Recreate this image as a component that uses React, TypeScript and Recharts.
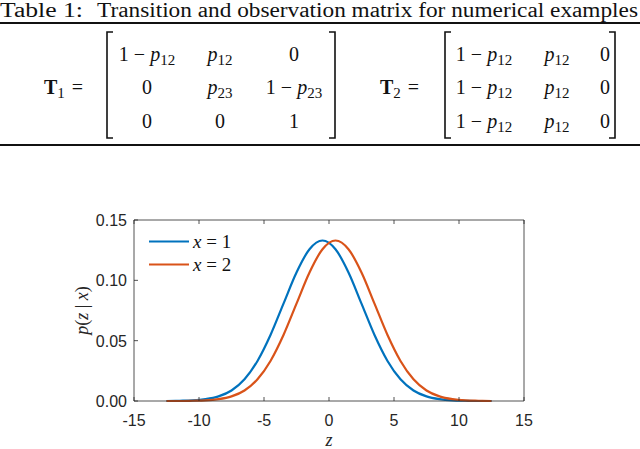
import React from 'react';
import { LineChart, Line, XAxis, YAxis, Legend } from 'recharts';

// density curves
const zValues = [-12.5, -11.5, -10.5, -9.5, -8.5, -7.5, -6.5, -5.5, -4.5, -3.5, -2.5, -1.5, -0.5, 0.5, 1.5, 2.5, 3.5, 4.5, 5.5, 6.5, 7.5, 8.5, 9.5, 10.5, 11.5, 12.5];
const pGivenX1 = [0.0, 0.0002, 0.0005, 0.0015, 0.0038, 0.0087, 0.018, 0.0332, 0.0547, 0.0807, 0.1065, 0.1258, 0.133, 0.1258, 0.1065, 0.0807, 0.0547, 0.0332, 0.018, 0.0087, 0.0038, 0.0015, 0.0005, 0.0002, 0.0, 0.0];
const pGivenX2 = [0.0, 0.0, 0.0002, 0.0005, 0.0015, 0.0038, 0.0087, 0.018, 0.0332, 0.0547, 0.0807, 0.1065, 0.1258, 0.133, 0.1258, 0.1065, 0.0807, 0.0547, 0.0332, 0.018, 0.0087, 0.0038, 0.0015, 0.0005, 0.0002, 0.0];
const seriesNames = ['x = 1', 'x = 2'];
const xTicks = [-15, -10, -5, 0, 5, 10, 15];
const yTicks = [0, 0.05, 0.1, 0.15];

// table contents
const tableTitle = 'Transition and observation matrix for numerical examples';
const matrixT1 = [
  ['1 − p_12', 'p_12', '0'],
  ['0', 'p_23', '1 − p_23'],
  ['0', '0', '1'],
];
const matrixT2 = [
  ['1 − p_12', 'p_12', '0'],
  ['1 − p_12', 'p_12', '0'],
  ['1 − p_12', 'p_12', '0'],
];

const data = zValues.map((z, i) => ({ z, x1: pGivenX1[i], x2: pGivenX2[i] }));

const AX = '#262626';
const SERIF = '"Liberation Serif", "DejaVu Serif", serif';
const SANS = '"Liberation Sans", Arial, sans-serif';

const rows = [61, 94, 128];
const colsT1 = [147, 220, 294];
const colsT2 = [484, 557, 605];

function Entry({ x, y, v }: { x: number; y: number; v: string }) {
  const m = v.match(/^(.*?)p_(\d+)$/);
  if (!m) return <text x={x} y={y} textAnchor="middle">{v}</text>;
  return (
    <text x={x} y={y} textAnchor="middle">
      {m[1].replace(' − ', '  −  ')}
      <tspan fontStyle="italic">p</tspan>
      <tspan fontSize={15} dy={4}>{m[2]}</tspan>
    </text>
  );
}

function Bracket({ x, dir }: { x: number; dir: number }) {
  return <path d={`M ${x + dir * 6} 32 H ${x} V 138 H ${x + dir * 6}`} fill="none" stroke="#111" strokeWidth={1.6} />;
}

function Matrix({ name, cells, cols, left, right, labelX }: any) {
  return (
    <g>
      <text x={labelX} y={94}>
        <tspan fontWeight="bold">T</tspan>
        <tspan fontSize={15} dy={4}>{name}</tspan>
        <tspan dy={-4} dx={7}>=</tspan>
      </text>
      <Bracket x={left} dir={1} />
      <Bracket x={right} dir={-1} />
      {cells.map((row: string[], r: number) =>
        row.map((v, c) => <Entry key={`${r}-${c}`} x={cols[c]} y={rows[r]} v={v} />)
      )}
    </g>
  );
}

function BottomTick({ x, y, payload }: any) {
  return (
    <g>
      <line x1={x} x2={x} y1={y} y2={y - 4} stroke={AX} strokeWidth={0.8} />
      <text x={x} y={y + 25} textAnchor="middle" fontSize={16} fontFamily={SANS} fill={AX}>
        {payload.value}
      </text>
    </g>
  );
}

function TopTick({ x, y }: any) {
  return <line x1={x} x2={x} y1={y} y2={y + 4} stroke={AX} strokeWidth={0.8} />;
}

function LeftTick({ x, y, payload }: any) {
  return (
    <g>
      <line x1={x} x2={x + 4} y1={y} y2={y} stroke={AX} strokeWidth={0.8} />
      <text x={x - 7} y={y + 6} textAnchor="end" fontSize={16} fontFamily={SANS} fill={AX}>
        {Number(payload.value).toFixed(2)}
      </text>
    </g>
  );
}

function RightTick({ x, y }: any) {
  return <line x1={x} x2={x - 4} y1={y} y2={y} stroke={AX} strokeWidth={0.8} />;
}

function XLabel({ viewBox }: any) {
  return (
    <text x={viewBox.x + viewBox.width / 2} y={446} textAnchor="middle" fontSize={18} fontStyle="italic" fontFamily={SERIF} fill={AX}>
      z
    </text>
  );
}

function YLabel({ viewBox }: any) {
  const cy = viewBox.y + viewBox.height / 2;
  return (
    <text x={88} y={cy} transform={`rotate(-90 88 ${cy})`} textAnchor="middle" fontSize={18} fontFamily={SERIF} fill={AX}>
      <tspan fontStyle="italic">p</tspan>(<tspan fontStyle="italic">z</tspan> | <tspan fontStyle="italic">x</tspan>)
    </text>
  );
}

function LegendBox({ payload }: any) {
  return (
    <div>
      {(payload || []).map((p: any) => (
        <div key={p.value} style={{ display: 'flex', alignItems: 'center', height: 23 }}>
          <svg width={44} height={23}>
            <line x1={0} x2={40} y1={11.5} y2={11.5} stroke={p.color} strokeWidth={2.2} />
          </svg>
          <span style={{ fontFamily: SERIF, fontSize: 19, color: '#111', whiteSpace: 'pre' }}>
            <i>{p.value.slice(0, 1)}</i>
            {p.value.slice(1)}
          </span>
        </div>
      ))}
    </div>
  );
}

export default function App() {
  return (
    <div style={{ position: 'absolute', left: 0, top: 0, width: 640, height: 449, background: '#fff', overflow: 'hidden' }}>
      <svg width={640} height={150} style={{ position: 'absolute', left: 0, top: 0 }} fontFamily={SERIF} fontSize={20} fill="#111">
        <text x={0} y={17} textLength={83} lengthAdjust="spacingAndGlyphs">Table 1:</text>
        <text x={97} y={17} textLength={541} lengthAdjust="spacingAndGlyphs">{tableTitle}</text>
        <rect x={0} y={22} width={640} height={2} fill="#111" />
        <Matrix name="1" cells={matrixT1} cols={colsT1} left={107} right={335} labelX={44} />
        <Matrix name="2" cells={matrixT2} cols={colsT2} left={445} right={615} labelX={380} />
        <rect x={0} y={144} width={640} height={2} fill="#111" />
      </svg>
      <LineChart
        width={640}
        height={449}
        data={data}
        margin={{ top: 219, right: 115, bottom: 47, left: 133 }}
        style={{ position: 'absolute', left: 0, top: 0 }}
      >
        <XAxis
          type="number"
          dataKey="z"
          domain={[-15, 15]}
          ticks={xTicks}
          interval={0}
          height={1}
          tickSize={0}
          tickMargin={0}
          tickLine={false}
          tick={BottomTick}
          axisLine={{ stroke: AX, strokeWidth: 0.8 }}
          label={{ content: XLabel }}
        />
        <XAxis
          xAxisId="top"
          orientation="top"
          type="number"
          dataKey="z"
          domain={[-15, 15]}
          ticks={xTicks}
          interval={0}
          height={1}
          tickSize={0}
          tickMargin={0}
          tickLine={false}
          tick={TopTick}
          axisLine={{ stroke: AX, strokeWidth: 0.8 }}
        />
        <YAxis
          type="number"
          domain={[0, 0.15]}
          ticks={yTicks}
          interval={0}
          width={1}
          tickSize={0}
          tickMargin={0}
          tickLine={false}
          tick={LeftTick}
          axisLine={{ stroke: AX, strokeWidth: 0.8 }}
          label={{ content: YLabel }}
        />
        <YAxis
          yAxisId="right"
          orientation="right"
          type="number"
          domain={[0, 0.15]}
          ticks={yTicks}
          interval={0}
          width={1}
          tickSize={0}
          tickMargin={0}
          tickLine={false}
          tick={RightTick}
          axisLine={{ stroke: AX, strokeWidth: 0.8 }}
        />
        <Legend
          layout="vertical"
          align="center"
          verticalAlign="middle"
          content={LegendBox}
          wrapperStyle={{ position: 'absolute', left: 149, top: 230, width: 120 }}
        />
        <Line type="monotone" dataKey="x1" name={seriesNames[0]} stroke="#0072BD" strokeWidth={2.2} dot={false} isAnimationActive={false} />
        <Line type="monotone" dataKey="x2" name={seriesNames[1]} stroke="#D95319" strokeWidth={2.2} dot={false} isAnimationActive={false} />
      </LineChart>
    </div>
  );
}
